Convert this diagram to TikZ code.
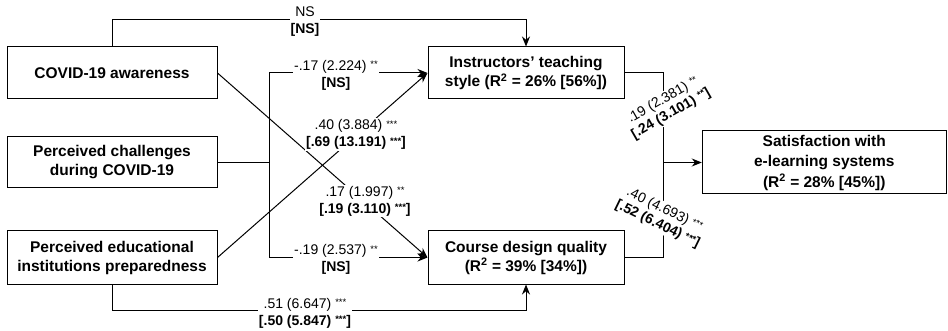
\documentclass[tikz,border=0pt]{standalone}
\usepackage{fontspec}
\setmainfont{Liberation Sans}
\usetikzlibrary{arrows.meta}
\newcommand\stars[1]{\raisebox{2.5pt}{\fontsize{9.5}{9.5}\selectfont #1}}

\begin{document}
\begin{tikzpicture}[x=1pt,y=-1pt,line width=1pt,
	box/.style={draw,inner sep=0pt,align=center,font=\fontsize{15.5}{19}\selectfont\bfseries},
	lbl/.style={fill=white,inner sep=1pt,align=center,font=\fontsize{14}{17}\selectfont},
	arr/.style={-{Stealth[length=10pt,width=8pt]}}]
	\useasboundingbox (0,0) rectangle (948,331);
	% constructs
	\node[box,minimum width=210pt,minimum height=52pt] (aware) at (112,73) {COVID-19 awareness};
	\node[box,minimum width=210pt,minimum height=51pt] (chall) at (112,162.5) {Perceived challenges\\during COVID-19};
	\node[box,minimum width=210pt,minimum height=53pt] (prep) at (112,257.5) {Perceived educational\\institutions preparedness};
	\node[box,minimum width=196pt,minimum height=52pt] (teach) at (526,73) {Instructors' teaching\\style (R\textsuperscript{2} = 26\% [56\%])};
	\node[box,minimum width=196pt,minimum height=53pt] (design) at (526,257.5) {Course design quality\\(R\textsuperscript{2} = 39\% [34\%])};
	\node[box,minimum width=244pt,minimum height=63pt,font=\fontsize{15.5}{20.5}\selectfont\bfseries] (satis) at (824.25,162.5) {Satisfaction with\\e-learning systems\\(R\textsuperscript{2} = 28\% [45\%])};
	\coordinate (split) at (269,162.5);
	\coordinate (join) at (663,162.5);
	% paths
	\draw[arr] (aware.north) -- ++(0,-27) -| (teach.north);
	\draw (chall.east) -- (split);
	\draw[arr] (split) |- (teach.west);
	\draw[arr] (split) |- (design.west);
	\draw[arr] (aware.east) -- (design.west);
	\draw[arr] (prep.east) -- (teach.west);
	\draw[arr] (prep.south) -- ++(0,26) -| (design.south);
	\draw (teach.east) -| (join);
	\draw (design.east) -| (join);
	\draw[arr] (join) -- (satis.west);
	% coefficients
	\node[lbl] (awTeach) at (305,22) {NS\\\textbf{[NS]}};
	\node[lbl] (chTeach) at (336,75) {-.17 (2.224) \stars{**}\\\textbf{[NS]}};
	\node[lbl] (prTeach) at (356,134.5) {.40 (3.884) \stars{***}\\\textbf{[.69 (13.191) \stars{***}]}};
	\node[lbl] (awDesign) at (365,201) {.17 (1.997) \stars{**}\\\textbf{[.19 (3.110) \stars{***}]}};
	\node[lbl] (chDesign) at (336,259.5) {-.19 (2.537) \stars{**}\\\textbf{[NS]}};
	\node[lbl] (prDesign) at (305,313) {.51 (6.647) \stars{***}\\\textbf{[.50 (5.847) \stars{***}]}};
	\node[lbl,rotate=30,font=\fontsize{14}{16}\selectfont] (teSatis) at (667,107) {.19 (2.381) \stars{**}\\\textbf{[.24 (3.101) \stars{**}]}};
	\node[lbl,rotate=-26,font=\fontsize{14}{16}\selectfont] (deSatis) at (661,217) {.40 (4.693) \stars{***}\\\textbf{[.52 (6.404) \stars{***}]}};
\end{tikzpicture}
\end{document}
